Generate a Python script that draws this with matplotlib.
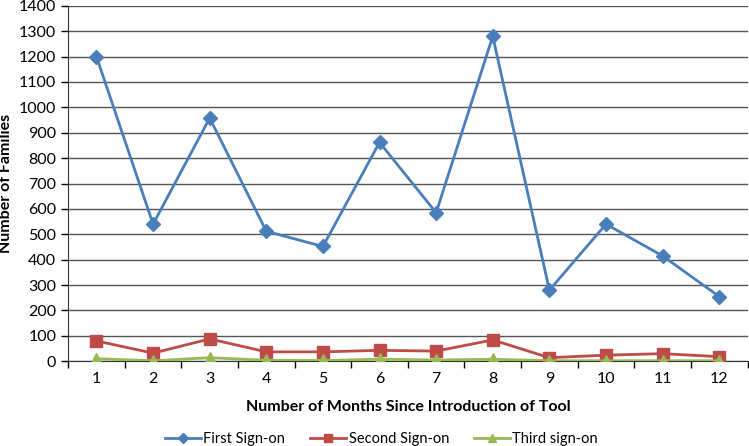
import matplotlib
matplotlib.use('Agg')
import matplotlib.pyplot as plt
from matplotlib.ticker import FixedLocator, MultipleLocator

plt.rcParams['font.family'] = ['Lato', 'DejaVu Sans']

months = [1, 2, 3, 4, 5, 6, 7, 8, 9, 10, 11, 12]
first_sign_on = [1200, 540, 958, 512, 452, 862, 585, 1280, 280, 540, 415, 255]
second_sign_on = [80, 32, 88, 37, 37, 43, 40, 84, 14, 24, 30, 18]
third_sign_on = [10, 2, 14, 4, 3, 8, 5, 8, 2, 2, 2, 2]

fig = plt.figure(figsize=(7.49, 4.46), dpi=100)
ax = fig.add_axes([0.091, 0.19, 0.907, 0.797])

ax.plot(months, first_sign_on, color='#4A7EBB', lw=2, marker='D', ms=7,
        label='First Sign-on', zorder=3)
ax.plot(months, second_sign_on, color='#BE4B48', lw=2, marker='s', ms=8,
        label='Second Sign-on', zorder=3)
ax.plot(months, third_sign_on, color='#98B954', lw=2, marker='^', ms=8,
        label='Third sign-on', zorder=3)

ax.set_xlim(0.5, 12.5)
ax.set_ylim(0, 1400)
ax.yaxis.set_major_locator(MultipleLocator(100))
ax.set_xticks(months)
ax.xaxis.set_minor_locator(FixedLocator([m + 0.5 for m in range(0, 13)]))
ax.tick_params(axis='x', which='major', length=0, labelsize=11.5, pad=8)
ax.tick_params(axis='x', which='minor', length=5, width=1, direction='out')
ax.tick_params(axis='y', length=5, width=1, labelsize=11.5, direction='out')

ax.grid(axis='y', color='#555555', lw=1)
ax.set_axisbelow(True)
for s in ['top', 'right']:
    ax.spines[s].set_visible(False)
ax.spines['left'].set_color('#333333')
ax.spines['bottom'].set_color('#333333')

ax.set_xlabel('Number of Months Since Introduction of Tool', fontsize=11.5,
              fontweight='bold', labelpad=10)
ax.set_ylabel('Number of Families', fontsize=11.5, fontweight='bold')

fig.legend(loc='lower center', bbox_to_anchor=(0.509, -0.03), ncol=3,
           frameon=False, fontsize=10.5, handlelength=2.5, handletextpad=0.15,
           columnspacing=1.7, markerscale=0.8)

fig.savefig('out.png', dpi=100)
